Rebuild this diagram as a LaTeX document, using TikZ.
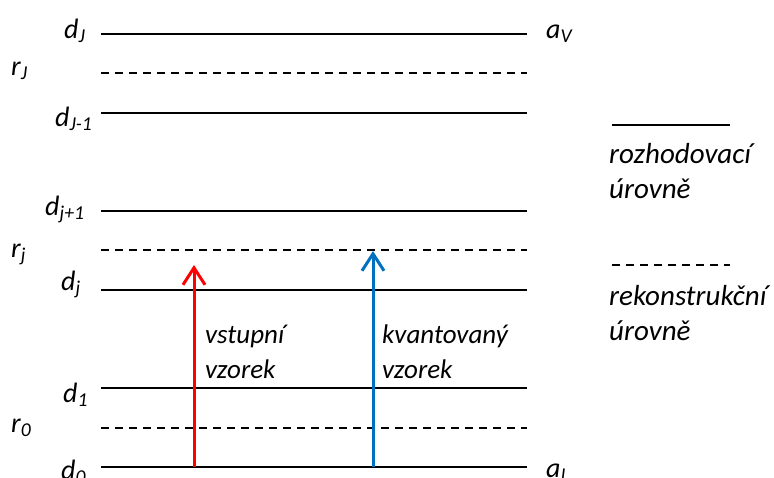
\documentclass[tikz,border=0pt]{standalone}
\usepackage{fontspec}
\setmainfont{Carlito}
\usetikzlibrary{arrows.meta}
\begin{document}
\begin{tikzpicture}[x=1pt,y=-1pt,
  lvl/.style={line width=2.4pt},
  rlvl/.style={line width=1.5pt,dash pattern=on 8pt off 6pt},
  lbl/.style={font=\fontsize{28}{34}\selectfont\itshape,inner sep=0pt,anchor=base west},
  arr/.style={line width=3pt,-{Straight Barb[length=17pt,width=22pt,line width=3pt]}},
  txt/.style={font=\fontsize{27}{35}\selectfont\itshape,inner sep=0pt,anchor=base west},
  ltxt/.style={font=\fontsize{29}{35}\selectfont\itshape,inner sep=0pt,anchor=base west}]
\useasboundingbox (0,0) rectangle (774,477);
% levels
\foreach \n/\y in {dJ/34,dJm/113,djp/211,dj/290,d1/388,d0/467}{
  \coordinate (\n L) at (101,\y); \coordinate (\n R) at (527,\y);
  \draw[lvl] (\n L) -- (\n R);}
\foreach \n/\y in {rJ/73,rj/250,r0/428}{
  \coordinate (\n L) at (101,\y); \coordinate (\n R) at (527,\y);
  \draw[rlvl] (\n L) -- (\n R);}
% labels
\node[lbl] (ldJ) at (64,38) {d\textsubscript{J}};
\node[lbl] (lrJ) at (11,75) {r\textsubscript{J}};
\node[lbl] (ldJm) at (55,126) {d\textsubscript{J-1}};
\node[lbl] (ldjp) at (45,215) {d\textsubscript{j+1}};
\node[lbl] (lrj) at (11,257) {r\textsubscript{j}};
\node[lbl] (ldj) at (61,290) {d\textsubscript{j}};
\node[lbl] (ld1) at (63,402) {d\textsubscript{1}};
\node[lbl] (lr0) at (11,432) {r\textsubscript{0}};
\node[lbl] (ld0) at (61,479) {d\textsubscript{0}};
\node[lbl] (laV) at (546,38) {a\textsubscript{V}};
\node[lbl] (laI) at (546,477) {a\textsubscript{I}};
% arrows
\coordinate (rs) at (194,467); \coordinate (re) at (194,265);
\coordinate (bs) at (373,467); \coordinate (be) at (373,251);
\draw[arr,red] (rs) -- (re);
\draw[arr,color={rgb,255:red,0;green,112;blue,192}] (bs) -- (be);
\node[txt] (tin1) at (205,343) {vstupní};
\node[txt] (tin2) at (205,378) {vzorek};
\node[txt] (tq1) at (382,343) {kvantovaný};
\node[txt] (tq2) at (382,378) {vzorek};
% legend
\coordinate (l1a) at (612,125); \coordinate (l1b) at (730,125);
\draw[line width=2pt] (l1a) -- (l1b);
\node[ltxt] (leg1a) at (609,163) {rozhodovací};
\node[ltxt] (leg1b) at (609,198) {úrovně};
\coordinate (l2a) at (612,265); \coordinate (l2b) at (730,265);
\draw[line width=1.5pt,dash pattern=on 8pt off 6pt] (l2a) -- (l2b);
\node[ltxt] (leg2a) at (609,305) {rekonstrukční};
\node[ltxt] (leg2b) at (609,340) {úrovně};
\end{tikzpicture}
\end{document}
